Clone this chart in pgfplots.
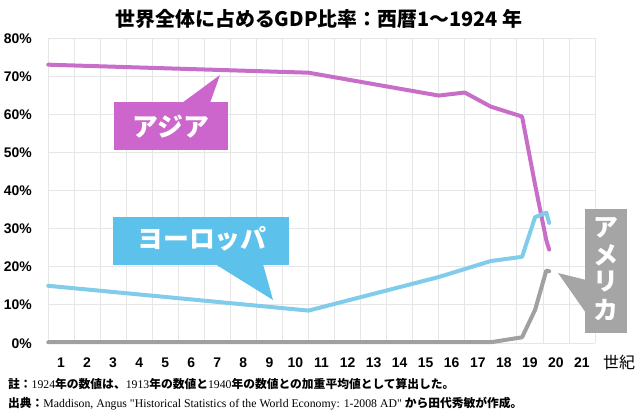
\documentclass[border=0pt]{standalone}
\usepackage{fontspec}
\setmainfont{Liberation Serif}[Ligatures=TeXOff]
\setsansfont{Liberation Sans}
\newfontfamily\jp{Noto Sans CJK JP}
\usepackage{pgfplots}
\pgfplotsset{compat=1.18}
\definecolor{asialine}{HTML}{C66EC8}
\definecolor{asiabox}{HTML}{CC66CC}
\definecolor{eurline}{HTML}{80CCEA}
\definecolor{eurbox}{HTML}{5CC2EC}
\definecolor{amline}{HTML}{A0A0A0}
\definecolor{ambox}{HTML}{A5A5A5}
\definecolor{gridc}{HTML}{E6E6E6}
\newcommand{\J}[1]{{\jp\bfseries #1}}

\pgfplotstableread{
year val
1    73.0
1000 70.9
1500 64.9
1600 65.7
1700 62.0
1820 59.4
1870 41.5
1913 27.0
1924 24.5
}\asia
\pgfplotstableread{
year val
1    15.0
1000 8.5
1500 17.3
1600 19.4
1700 21.5
1820 22.6
1870 33.0
1913 34.2
1924 31.5
}\europe
\pgfplotstableread{
year val
1    0.2
1700 0.2
1820 1.5
1870 8.7
1913 19.0
1924 18.8
}\america

\begin{document}
\begin{tikzpicture}
\useasboundingbox (-48bp,-74bp) rectangle (592bp,343bp);
\begin{axis}[
  anchor=origin, at={(0,0)},
  scale only axis, width=547bp, height=305bp,
  xmin=0, xmax=2100, ymin=0, ymax=80,
  clip=false,
  axis line style={draw=none},
  major tick length=0pt, minor tick length=0pt,
  xtick={50,150,250,350,450,550,650,750,850,950,1050,1150,1250,1350,1450,1550,1650,1750,1850,1950,2050},
  xticklabels={1,2,3,4,5,6,7,8,9,10,11,12,13,14,15,16,17,18,19,20,21},
  minor xtick={0,100,...,2100},
  ytick={0,10,...,80},
  yticklabels={0\%,10\%,20\%,30\%,40\%,50\%,60\%,70\%,80\%},
  xmajorgrids=false, xminorgrids=true, ymajorgrids=true,
  grid style={draw=gridc, line width=0.8bp},
  minor grid style={draw=gridc, line width=0.8bp},
  ticklabel style={font=\sffamily\bfseries\fontsize{14}{14}\selectfont, inner sep=0pt},
  xticklabel style={anchor=base, yshift=-24bp},
  yticklabel style={anchor=base east, xshift=-16bp, yshift=-5bp},
  every axis plot/.append style={line width=4bp, line cap=round, line join=round, mark=none},
]
\addplot[asialine] table[x=year,y=val]{\asia};
\addplot[eurline] table[x=year,y=val]{\europe};
\addplot[amline] table[x=year,y=val]{\america};
\end{axis}

\begin{scope}[x=1bp, y=1bp, shift={(-48,-74)}]
% century label
\node[anchor=base, inner sep=0pt, font=\jp\fontsize{16}{16}\selectfont] at (619,49) {世紀};

% title
\node[anchor=base, inner sep=0pt, font=\jp\bfseries\fontsize{20}{20}\selectfont] at (319,391) {世界全体に占めるGDP比率：西暦1～1924 年};

% Asia callout
\fill[asiabox] (114,267) rectangle (228,315);
\fill[asiabox] (182,314) -- (220,342) -- (210,314) -- cycle;
\node[anchor=base, inner sep=0pt, text=white, font=\jp\bfseries\fontsize{26}{26}\selectfont] at (171,281) {アジア};

% Europe callout
\fill[eurbox] (113,152) rectangle (289,200);
\fill[eurbox] (215,153) -- (273,117) -- (263,153) -- cycle;
\node[anchor=base, inner sep=0pt, text=white, font=\jp\bfseries\fontsize{26}{26}\selectfont] at (202,169) {ヨーロッパ};

% America callout
\fill[ambox] (585,84) rectangle (627,208);
\fill[ambox] (586,137) -- (558,144) -- (586,104) -- cycle;
\foreach \c/\yy in {ア/180.5,メ/152.5,リ/126.5,カ/97.5}
  \node[anchor=base, inner sep=0pt, text=white, font=\jp\bfseries\fontsize{25}{25}\selectfont] at (606,\yy) {\c};

% notes
\node[anchor=base west, inner sep=0pt, font=\fontsize{11.8}{12}\selectfont] at (8,29)
  {\J{註：}1924\J{年の数値は、}1913\J{年の数値と}1940\J{年の数値との加重平均値として算出した。}};
\node[anchor=base west, inner sep=0pt, font=\fontsize{11.8}{12}\selectfont] at (8,10)
  {\J{出典：}Maddison, Angus "Historical Statistics of the World Economy: 1-2008 AD" \J{から田代秀敏が作成。}};
\end{scope}
\end{tikzpicture}
\end{document}
